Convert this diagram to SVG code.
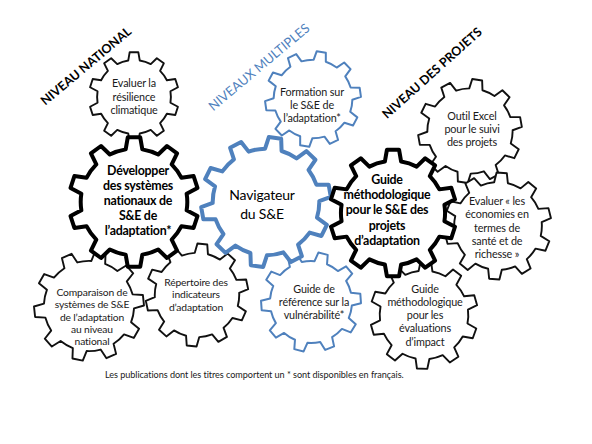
<svg xmlns="http://www.w3.org/2000/svg" xmlns:xlink="http://www.w3.org/1999/xlink" width="592" height="444" viewBox="0 0 592 444">
<style>
  .gear { fill: #fff; }
  .thin { stroke: #111; stroke-width: 1.9; stroke-linejoin: round; }
  .thick { stroke: #000; stroke-width: 4; stroke-linejoin: round; }
  .bthin { stroke: #4f81bd; stroke-width: 2; stroke-linejoin: round; }
  .bthick { stroke: #4f81bd; stroke-width: 4; stroke-linejoin: round; }
  text { font-family: Lato, "Liberation Sans", sans-serif; fill: #1a1a1a; text-anchor: middle; }
  .s { font-size: 10.8px; letter-spacing: -0.15px; }
  .sm { font-size: 10.3px; letter-spacing: -0.15px; }
  .b { font-size: 12.4px; font-weight: bold; fill: #000; letter-spacing: -0.25px; }
  .nav { font-size: 14px; fill: #000; letter-spacing: -0.2px; }
  .lab { font-size: 12.5px; font-weight: bold; fill: #000; }
  .labb { font-size: 13px; fill: #4f81bd; }
  .foot { font-size: 9.1px; text-anchor: start; letter-spacing: -0.05px; }
</style>
<defs>
  <path id="g" vector-effect="non-scaling-stroke" d="M40.495,6.414 L48.815,10.822 L45.853,19.938 L36.531,18.614 A41,41 0 0 1 28.991,28.991 L33.131,37.448 L25.377,43.082 L18.614,36.531 A41,41 0 0 1 6.414,40.495 L4.793,49.770 L-4.793,49.770 L-6.414,40.495 A41,41 0 0 1 -18.614,36.531 L-25.377,43.082 L-33.131,37.448 L-28.991,28.991 A41,41 0 0 1 -36.531,18.614 L-45.853,19.938 L-48.815,10.822 L-40.495,6.414 A41,41 0 0 1 -40.495,-6.414 L-48.815,-10.822 L-45.853,-19.938 L-36.531,-18.614 A41,41 0 0 1 -28.991,-28.991 L-33.131,-37.448 L-25.377,-43.082 L-18.614,-36.531 A41,41 0 0 1 -6.414,-40.495 L-4.793,-49.770 L4.793,-49.770 L6.414,-40.495 A41,41 0 0 1 18.614,-36.531 L25.377,-43.082 L33.131,-37.448 L28.991,-28.991 A41,41 0 0 1 36.531,-18.614 L45.853,-19.938 L48.815,-10.822 L40.495,-6.414 A41,41 0 0 1 40.495,6.414 Z"/>
</defs>
<rect width="592" height="444" fill="#fff"/>

<g id="labels">
  <text class="lab" transform="translate(86,66) rotate(-40)" dy="0.35em">NIVEAU NATIONAL</text>
  <text class="labb" transform="translate(259,67) rotate(-40)" dy="0.35em">NIVEAUX MULTIPLES</text>
  <text class="lab" transform="translate(432,73) rotate(-42)" dy="0.35em">NIVEAU DES PROJETS</text>
</g>

<g id="n-evaluer-resilience">
  <use href="#g" class="gear thin" transform="translate(134,97) scale(0.9)"/>
  <text class="s"><tspan x="134" y="87">Evaluer la</tspan><tspan x="134" y="101">résilience</tspan><tspan x="134" y="114">climatique</tspan></text>
</g>
<g id="n-formation">
  <use href="#g" class="gear bthin" transform="translate(313,99) scale(0.96) rotate(10)"/>
  <text class="s"><tspan x="312" y="96">Formation sur</tspan><tspan x="312" y="109">le S&amp;E de</tspan><tspan x="312" y="122">l’adaptation*</tspan></text>
</g>
<g id="n-outil-excel">
  <use href="#g" class="gear thin" transform="translate(470,131) scale(1.04) rotate(8)"/>
  <text class="s"><tspan x="472" y="120">Outil Excel</tspan><tspan x="472" y="133">pour le suivi</tspan><tspan x="472" y="146">des projets</tspan></text>
</g>
<g id="n-evaluer-economies">
  <use href="#g" class="gear thin" transform="translate(498,226) scale(1.07) rotate(4)"/>
  <text class="s"><tspan x="497" y="205">Evaluer « les</tspan><tspan x="497" y="218">économies en</tspan><tspan x="497" y="232">termes de</tspan><tspan x="497" y="245">santé et de</tspan><tspan x="497" y="258">richesse »</tspan></text>
</g>
<g id="n-comparaison">
  <use href="#g" class="gear thin" transform="translate(89,306) scale(1.1) rotate(12)"/>
  <text class="sm"><tspan x="92" y="296">Comparaison de</tspan><tspan x="92" y="308">systèmes de S&amp;E</tspan><tspan x="92" y="321">de l’adaptation</tspan><tspan x="92" y="333">au niveau</tspan><tspan x="92" y="345">national</tspan></text>
</g>
<g id="n-repertoire">
  <use href="#g" class="gear thin" transform="translate(197,295) scale(1.03) rotate(6)"/>
  <text class="sm"><tspan x="196" y="286">Répertoire des</tspan><tspan x="196" y="298">indicateurs</tspan><tspan x="196" y="311">d’adaptation</tspan></text>
</g>
<g id="n-guide-reference">
  <use href="#g" class="gear bthin" transform="translate(311,302) scale(1.0) rotate(14)"/>
  <text class="s"><tspan x="314" y="293">Guide de</tspan><tspan x="314" y="306">référence sur la</tspan><tspan x="314" y="319">vulnérabilité*</tspan></text>
</g>
<g id="n-guide-impact">
  <use href="#g" class="gear thin" transform="translate(424,315) scale(1.08) rotate(2)"/>
  <text class="s"><tspan x="425" y="293">Guide</tspan><tspan x="425" y="306">méthodologique</tspan><tspan x="425" y="319">pour les</tspan><tspan x="425" y="332">évaluations</tspan><tspan x="425" y="346">d’impact</tspan></text>
</g>
<g id="n-developper">
  <use href="#g" class="gear thick" transform="translate(134,202) scale(1.3)"/>
  <text class="b"><tspan x="138" y="175">Développer</tspan><tspan x="138" y="190">des systèmes</tspan><tspan x="138" y="205">nationaux de</tspan><tspan x="138" y="220">S&amp;E de</tspan><tspan x="138" y="235">l’adaptation*</tspan></text>
</g>
<g id="n-navigateur">
  <use href="#g" class="gear bthick" transform="translate(266,202) scale(1.3) rotate(8)"/>
  <text class="nav"><tspan x="262" y="200">Navigateur</tspan><tspan x="262" y="219">du S&amp;E</tspan></text>
</g>
<g id="n-guide-se">
  <use href="#g" class="gear thick" transform="translate(393,213) scale(1.27)"/>
  <text class="b"><tspan x="387" y="184">Guide</tspan><tspan x="387" y="199">méthodologique</tspan><tspan x="387" y="214">pour le S&amp;E des</tspan><tspan x="387" y="230">projets</tspan><tspan x="387" y="245">d’adaptation</tspan></text>
</g>

<text class="foot" x="105" y="378">Les publications dont les titres comportent un *  sont disponibles en français.</text>
</svg>
